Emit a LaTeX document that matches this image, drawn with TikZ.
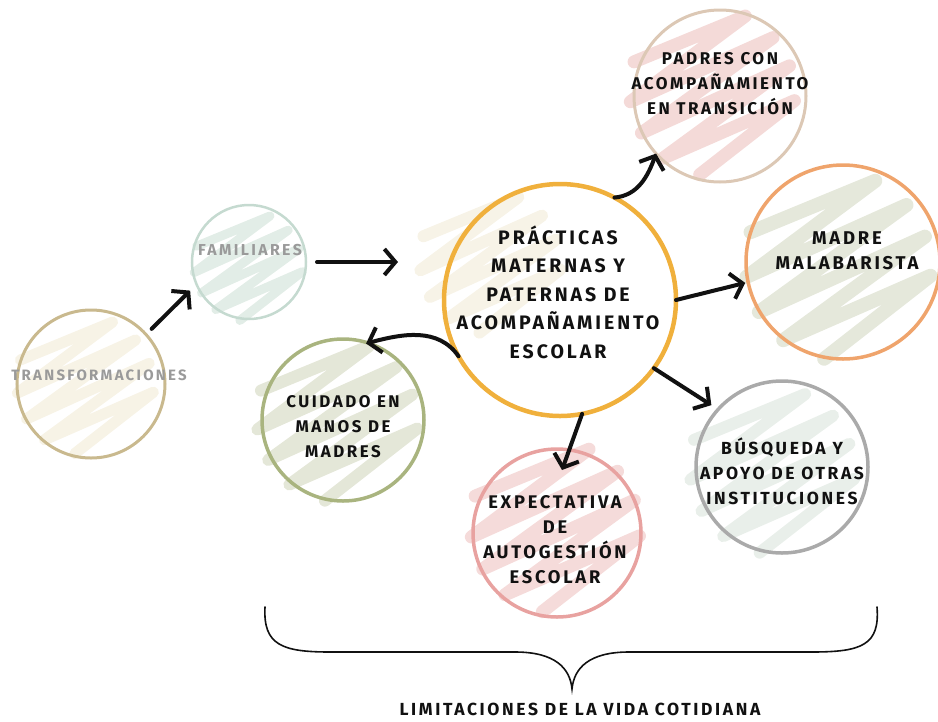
\documentclass[tikz,border=0pt]{standalone}
\usepackage{fontspec}
\usetikzlibrary{arrows.meta,calc}
\newfontfamily\hand[LetterSpace=15]{Fira Sans}
\definecolor{inkc}{HTML}{111111}
\definecolor{grayt}{HTML}{9A9A9A}
\definecolor{cTrans}{HTML}{C9B98E}
\definecolor{cFam}{HTML}{C5DAD0}
\definecolor{cCtr}{HTML}{F0B03C}
\definecolor{cPad}{HTML}{DCC8B5}
\definecolor{cMad}{HTML}{EFA46C}
\definecolor{cBus}{HTML}{AAAAAA}
\definecolor{cCui}{HTML}{A9B47F}
\definecolor{cExp}{HTML}{E8A2A0}
\definecolor{sTrans}{HTML}{F7F3E6}
\definecolor{sFam}{HTML}{E2EDE7}
\definecolor{sCtr}{HTML}{F7F3E7}
\definecolor{sPad}{HTML}{F4DAD8}
\definecolor{sMad}{HTML}{E5E8DB}
\definecolor{sBus}{HTML}{E9EFEA}
\definecolor{sCui}{HTML}{E4E7D8}
\definecolor{sExp}{HTML}{F5DBDA}
\newcommand\myscrib[5]{%
  \begin{scope}[shift={(#2,#3)},scale=#4]
    \draw[#1,line width=#5,line cap=round,line join=round]
      plot[variable=\i,samples at={0,...,8}]
      ({0.5*(-0.8+0.2*\i)+(2*mod(\i,2)-1)*(0.9*sqrt(1-(-0.8+0.2*\i)*(-0.8+0.2*\i))+0.1)*0.86},
       {-0.86*(-0.8+0.2*\i)+(2*mod(\i,2)-1)*(0.9*sqrt(1-(-0.8+0.2*\i)*(-0.8+0.2*\i))+0.1)*0.5});
  \end{scope}}
\tikzset{
  ring/.style={circle,inner sep=0pt,outer sep=0pt},
  txt/.style={align=center,text=inkc,inner sep=0pt},
  arr/.style={line width=4pt,line cap=round,line join=round,draw=inkc,
    -{Straight Barb[length=11pt,width=26pt,line width=4pt]}},
}
\begin{document}
\begin{tikzpicture}[x=1pt,y=1pt]
\useasboundingbox (0,0) rectangle (938,-721);
% scribbles
\myscrib{sTrans}{85}{-385}{68}{11pt}
\myscrib{sFam}{248}{-266}{54}{9pt}
\myscrib{sCtr}{490}{-262}{70}{12pt}
\myscrib{sPad}{712}{-92}{82}{13pt}
\myscrib{sMad}{838}{-266}{92}{14pt}
\myscrib{sBus}{772}{-470}{82}{12pt}
\myscrib{sCui}{337}{-420}{80}{12pt}
\myscrib{sExp}{555}{-527}{84}{13pt}
% circles
\node[ring,minimum size=148pt,draw=cTrans,line width=3pt] (trans) at (91,-384) {};
\node[ring,minimum size=114pt,draw=cFam,line width=2.5pt] (fam) at (249,-262) {};
\node[ring,minimum size=232pt,draw=cCtr,line width=4.5pt] (ctr) at (560,-300) {};
\node[ring,minimum size=172pt,draw=cPad,line width=3pt] (pad) at (720,-96) {};
\node[ring,minimum size=194pt,draw=cMad,line width=3.5pt] (mad) at (843,-262) {};
\node[ring,minimum size=172pt,draw=cBus,line width=3.5pt] (bus) at (782,-467) {};
\node[ring,minimum size=162pt,draw=cCui,line width=3.5pt] (cui) at (343,-420) {};
\node[ring,minimum size=168pt,draw=cExp,line width=3.5pt] (exp) at (557,-533) {};
% texts
\node[txt,text=grayt,font=\hand\bfseries\fontsize{15}{20}\selectfont] (tTrans) at (99,-375) {TRANSFORMACIONES};
\node[txt,text=grayt,font=\hand\bfseries\fontsize{15.8}{20}\selectfont] (tFam) at (250,-250) {FAMILIARES};
\node[txt,font=\hand\bfseries\fontsize{19.5}{28.5}\selectfont] (tCtr) at (558,-292) {PRÁCTICAS\\MATERNAS Y\\PATERNAS DE\\ACOMPAÑAMIENTO\\ESCOLAR};
\node[txt,font=\hand\bfseries\fontsize{17}{25}\selectfont] (tPad) at (720,-84) {PADRES CON\\ACOMPAÑAMIENTO\\EN TRANSICIÓN};
\node[txt,font=\hand\bfseries\fontsize{18.5}{25}\selectfont] (tMad) at (847,-251) {MADRE\\MALABARISTA};
\node[txt,font=\hand\bfseries\fontsize{17.5}{25}\selectfont] (tBus) at (782,-471) {BÚSQUEDA Y\\APOYO DE OTRAS\\INSTITUCIONES};
\node[txt,font=\hand\bfseries\fontsize{16.9}{25}\selectfont] (tCui) at (343,-427) {CUIDADO EN\\MANOS DE\\MADRES};
\node[txt,font=\hand\bfseries\fontsize{18.3}{25}\selectfont] (tExp) at (555,-540) {EXPECTATIVA\\DE\\AUTOGESTIÓN\\ESCOLAR};
\node[txt,font=\hand\bfseries\fontsize{17.5}{20}\selectfont] (tLim) at (580,-709) {LIMITACIONES DE LA VIDA COTIDIANA};
% arrows
\draw[arr,shorten <=8pt,shorten >=9pt] (trans.42) -- (fam.203);
\draw[arr,shorten <=11pt,shorten >=46pt] (fam.east) -- (fam.east -| ctr.west);
\draw[arr] (ctr.62) to[out=5,in=250] (pad.222);
\draw[arr,shorten >=3pt] (ctr.0) -- (mad.192);
\draw[arr,shorten >=8pt] (ctr.-36) -- (bus.138);
\draw[arr,shorten >=-2pt] (ctr.209) to[out=125,in=15] (cui.72);
\draw[arr] (ctr.-79) -- ($(exp.center)+(5,63)$);
% brace
\draw[inkc,line width=1.6pt,line cap=round]
  (265,-607) .. controls (263,-645) and (282,-652) .. (330,-652) -- (515,-652)
  .. controls (555,-652) and (570,-668) .. (572,-689)
  .. controls (574,-668) and (589,-652) .. (629,-652) -- (812,-652)
  .. controls (862,-652) and (880,-645) .. (877,-607);
\end{tikzpicture}
\end{document}
